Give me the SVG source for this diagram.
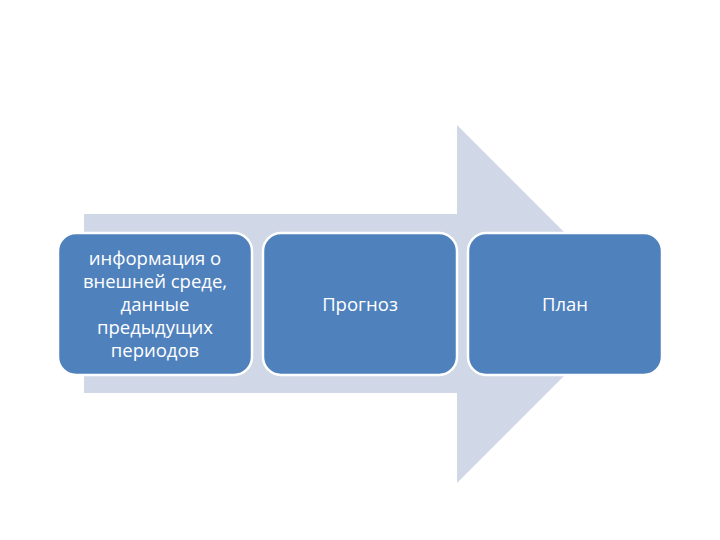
<svg xmlns="http://www.w3.org/2000/svg" width="720" height="540" viewBox="0 0 720 540">
<style>
.box{fill:#4F81BD;stroke:#FFFFFF;stroke-width:2.5}
.t{font-family:"Open Sans","Liberation Sans",sans-serif;font-size:18.5px;fill:#FFFFFF;text-anchor:middle}
</style>
<rect width="720" height="540" fill="#FFFFFF"/>
<g id="arrow">
<polygon points="84,214 457,214 457,125 636,304 457,483 457,393 84,393" fill="#D0D7E6"/>
</g>
<g id="node1">
<rect class="box" x="58" y="233" width="194" height="142" rx="18"/>
<text class="t" x="155" y="265">информация о</text>
<text class="t" x="155" y="288">внешней среде,</text>
<text class="t" x="155" y="311">данные</text>
<text class="t" x="155" y="334">предыдущих</text>
<text class="t" x="155" y="357">периодов</text>
</g>
<g id="node2">
<rect class="box" x="263" y="233" width="194" height="142" rx="18"/>
<text class="t" x="360" y="311">Прогноз</text>
</g>
<g id="node3">
<rect class="box" x="468" y="233" width="194" height="142" rx="18"/>
<text class="t" x="565" y="311">План</text>
</g>
<g id="connectors"></g>
</svg>
